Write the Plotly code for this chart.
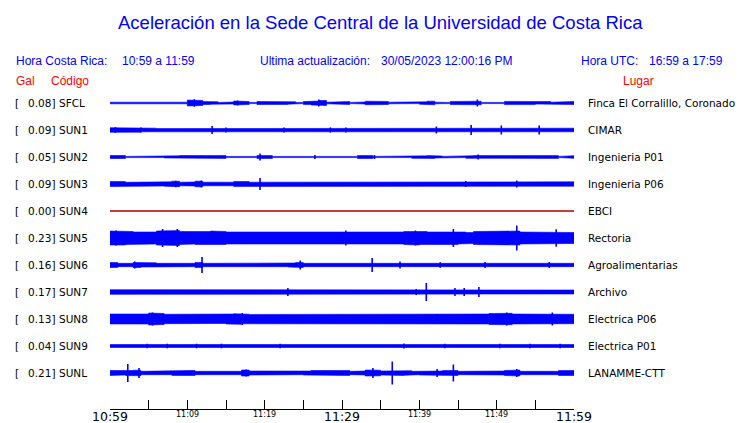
import plotly.graph_objects as go

W, H = 740, 423

# ---------------- data ----------------
codes = ["SFCL", "SUN1", "SUN2", "SUN3", "SUN4", "SUN5", "SUN6", "SUN7", "SUN8", "SUN9", "SUNL"]
peak_gal = [0.08, 0.09, 0.05, 0.09, 0.00, 0.23, 0.16, 0.17, 0.13, 0.04, 0.21]
places = ["Finca El Corralillo, Coronado", "CIMAR", "Ingenieria P01", "Ingenieria P06", "EBCI",
          "Rectoria", "Agroalimentarias", "Archivo", "Electrica P06", "Electrica P01", "LANAMME-CTT"]

# per-minute envelope (half amplitude, display units)
env_SFCL = [0.8,1.0,0.6,0.6,0.6,1.3,1.0,0.6,0.6,0.8, 3.0,2.5,1.5,1.2,0.6,1.0,2.0,1.5,0.6,1.5,
            1.5,1.2,1.4,1.2,0.6,1.4,2.0,2.5,0.8,1.5, 1.5,0.6,1.0,1.8,1.5,1.5,0.8,0.8,0.6,0.6,
            1.2,1.8,0.8,0.6,1.5,1.6,1.5,1.8,0.6,0.8, 0.6,1.6,1.2,1.6,1.6,1.0,1.5,0.8,1.5,1.5]
env_SUN1 = [2.3,2.3,2.0,2.2,1.8,1.8,1.4,1.8,1.4,1.4, 1.4,1.8,1.4,1.8,1.8,2.0,1.8,1.8,1.8,1.8,
            1.8,1.8,2.0,1.8,1.8,1.8,1.8,1.8,1.8,1.8, 2.0,1.8,1.8,1.8,1.8,1.8,1.8,1.8,1.8,1.8,
            1.8,2.0,2.0,1.8,1.8,1.8,2.0,1.8,1.8,1.8, 1.8,1.8,1.8,1.8,1.8,2.0,1.8,1.8,1.8,1.8]
env_SUN2 = [1.5,1.5,0.6,1.2,1.0,0.6,0.6,0.9,1.2,1.5, 1.5,1.4,1.5,1.3,1.4,0.6,1.0,0.9,0.6,1.5,
            1.4,0.6,1.2,0.6,0.9,0.6,1.0,1.3,0.6,1.3, 1.0,0.6,1.5,1.4,0.6,1.3,0.6,0.8,0.6,1.3,
            1.2,1.4,1.0,0.6,1.3,0.6,1.3,1.4,1.4,1.3, 0.7,1.4,1.2,1.4,1.4,0.8,1.3,1.4,0.6,1.3]
env_SUN3 = [2.6,2.4,1.7,2.3,2.0,1.7,2.0,2.2,2.8,1.8, 2.0,2.8,1.8,2.0,1.8,1.8,2.6,2.4,1.8,2.0,
            1.8,1.8,2.4,2.5,2.5,2.0,2.3,2.0,2.2,2.0, 1.8,2.2,2.0,2.0,2.3,2.0,2.0,2.2,2.0,2.2,
            2.2,2.0,2.2,2.0,2.3,2.0,2.2,2.0,2.2,2.0, 2.2,2.0,2.4,2.0,2.4,2.2,2.0,2.3,2.4,2.2]
env_SUN4 = [0.0] * 60
env_SUN5 = [7.0,7.0,6.5,6.0,6.0,6.0,7.0,7.5,7.5,6.5, 6.0,6.5,6.5,7.0,6.5,6.0,6.0,6.0,6.0,5.5,
            6.0,5.5,5.5,6.0,5.5,6.0,5.5,5.5,6.0,5.5, 5.5,6.0,5.5,6.0,5.5,6.0,5.5,6.0,6.5,7.0,
            6.5,6.0,6.5,6.5,6.5,6.0,5.5,6.5,7.0,6.5, 7.0,7.0,7.0,6.0,5.5,5.5,6.0,5.5,5.5,5.5]
env_SUN6 = [2.5,1.7,1.7,2.5,2.0,2.2,1.7,2.3,2.0,1.7, 1.7,2.5,1.7,2.0,2.3,2.2,1.7,2.0,2.2,1.7,
            1.7,1.7,1.7,2.0,2.5,1.7,1.7,1.7,1.7,2.0, 2.2,1.7,1.7,1.7,2.0,1.7,2.0,2.3,1.7,1.7,
            1.7,1.7,2.3,1.7,1.7,1.7,1.7,2.0,2.2,1.7, 1.7,1.7,2.2,1.7,1.7,1.7,2.3,1.7,2.0,1.7]
env_SUN7 = [2.3,2.0,1.8,2.2,1.8,2.0,1.8,2.3,2.3,2.0, 1.8,2.2,1.8,2.0,2.2,1.8,2.3,2.0,1.8,2.3,
            2.2,1.8,2.0,2.5,1.8,2.2,2.0,2.3,2.2,2.0, 2.0,2.0,1.8,2.0,2.2,1.8,2.5,2.0,2.2,2.3,
            2.5,2.2,2.0,2.2,2.5,2.5,2.2,2.5,2.0,2.2, 2.0,2.2,2.0,2.2,2.0,2.0,2.2,2.0,2.3,2.0]
env_SUN8 = [5.0,5.0,4.5,4.7,5.0,6.0,5.5,4.7,4.5,4.7, 5.0,4.5,4.7,4.5,4.5,5.0,5.3,4.8,4.5,4.5,
            4.5,4.5,4.8,5.0,4.5,4.5,4.5,4.5,4.7,4.5, 4.5,4.5,4.7,4.5,4.8,4.5,4.5,4.5,4.8,4.8,
            4.5,5.0,4.8,4.5,4.7,4.5,5.0,4.8,5.0,5.5, 6.0,5.7,5.0,4.8,4.5,4.5,5.0,4.7,4.5,4.7]
env_SUN9 = [1.5] * 60
env_SUNL = [2.5,2.0,2.5,2.8,1.7,2.4,2.0,1.7,2.4,2.4, 2.5,1.7,1.7,2.2,2.0,1.7,1.7,3.0,2.0,2.0,
            2.2,1.7,2.2,2.2,1.7,2.0,2.5,2.4,2.2,2.5, 2.5,1.7,2.0,3.0,2.8,2.0,2.5,2.5,2.3,1.7,
            2.0,2.2,2.0,2.5,2.5,1.7,1.7,2.4,2.4,2.2, 2.0,2.5,3.0,1.7,2.2,1.7,2.0,1.7,2.5,2.5]

# prominent peaks: (minute, half amplitude)
spk_SFCL = [(10.9, 3.8), (27.0, 3.5), (47.5, 3.5), (16.5, 2.5)]
spk_SUN1 = [(13.2, 4.0), (42.2, 3.5), (46.7, 5.0), (50.6, 4.5), (55.5, 4.5), (0.7, 2.8),
            (4.0, 2.6), (15.0, 2.6), (22.5, 2.6), (28.5, 2.6), (30.5, 2.5)]
spk_SUN2 = [(19.4, 3.5), (47.6, 2.5), (34.2, 2.0), (26.5, 2.0)]
spk_SUN3 = [(19.4, 6.0), (52.6, 3.5), (46.0, 3.0), (11.8, 3.5), (8.5, 3.2)]
spk_SUN4 = []
spk_SUN5 = [(6.8, 9.0), (8.7, 9.0), (44.4, 9.0), (52.6, 12.5), (57.7, 8.7), (0.8, 7.5), (30.5, 7.5), (39.5, 7.5)]
spk_SUN6 = [(11.9, 8.0), (33.9, 7.0), (3.2, 3.5), (24.6, 4.5), (37.5, 3.5), (42.7, 2.8), (48.5, 3.0), (56.8, 3.0)]
spk_SUN7 = [(40.9, 9.0), (23.0, 4.0), (44.6, 4.0), (45.8, 4.0), (47.7, 5.0), (39.6, 3.0)]
spk_SUN8 = [(5.5, 6.5), (17.1, 6.0), (51.3, 6.5), (57.2, 6.5), (42.3, 5.0)]
spk_SUN9 = [(4.8, 2.3), (7.4, 2.3), (11.2, 2.3), (14.4, 2.3), (22.0, 2.3), (38.0, 2.5),
            (43.3, 2.3), (50.4, 2.3), (54.3, 2.3), (58.2, 2.3)]
spk_SUNL = [(2.3, 9.0), (3.75, 5.0), (36.5, 11.5), (44.4, 8.5), (34.0, 5.0), (52.6, 4.0), (42.3, 4.0), (17.6, 3.5)]

envelopes = [env_SFCL, env_SUN1, env_SUN2, env_SUN3, env_SUN4, env_SUN5,
             env_SUN6, env_SUN7, env_SUN8, env_SUN9, env_SUNL]
spikes = [spk_SFCL, spk_SUN1, spk_SUN2, spk_SUN3, spk_SUN4, spk_SUN5,
          spk_SUN6, spk_SUN7, spk_SUN8, spk_SUN9, spk_SUNL]

tick_minutes = list(range(0, 61, 5))
label_minutes = [0, 10, 20, 30, 40, 50, 60]
label_texts = ["10:59", "11:09", "11:19", "11:29", "11:39", "11:49", "11:59"]
major_labels = ["10:59", "11:29", "11:59"]

title = "Aceleración en la Sede Central de la Universidad de Costa Rica"

# ---------------- layout helpers ----------------
BLUE = "#0000ff"
RED = "#ff0000"
ROW0_PX, ROW_PX = 103, 27          # row spacing in pixels
GAIN = 1.0 / ROW_PX                # display units -> row units
y_top = -ROW0_PX / ROW_PX
y_bot = (H - ROW0_PX) / ROW_PX

def py(p):   # pixel y -> paper y
    return 1 - p / H

def px(p):   # pixel x -> paper x
    return p / W

fig = go.Figure()

for i, (env, spk) in enumerate(zip(envelopes, spikes)):
    if max(env) == 0:
        fig.add_trace(go.Scatter(x=[0, 60], y=[i, i], mode="lines",
                                 line=dict(color="#b00000", width=1.4), hoverinfo="skip"))
        continue
    xs, ys = [], []
    for m, a in enumerate(env):
        xs += [m, m + 1]
        ys += [i - a * GAIN, i - a * GAIN]
    for m in range(len(env) - 1, -1, -1):
        a = env[m]
        xs += [m + 1, m]
        ys += [i + a * GAIN, i + a * GAIN]
    fig.add_trace(go.Scatter(x=xs, y=ys, mode="lines", fill="toself", fillcolor=BLUE,
                             line=dict(color=BLUE, width=0.6), hoverinfo="skip"))
    if spk:
        sx, sy = [], []
        for t, a in spk:
            sx += [t, t, None]
            sy += [i - a * GAIN, i + a * GAIN, None]
        fig.add_trace(go.Scatter(x=sx, y=sy, mode="lines",
                                 line=dict(color=BLUE, width=1.6), hoverinfo="skip"))

ann = []
def A(text, x, y, size, color, family, xanchor="left", xref="paper", yref="paper"):
    ann.append(dict(text=text, x=x, y=y, xref=xref, yref=yref, xanchor=xanchor, yanchor="middle",
                    showarrow=False, font=dict(size=size, color=color, family=family)))

SANS = "Liberation Sans, Arial, sans-serif"
DJ = "DejaVu Sans, sans-serif"

A(title, px(381), py(23), 18.5, BLUE, SANS, "center")
A("Hora Costa Rica:", px(14), py(61), 12, BLUE, SANS)
A("10:59 a 11:59", px(120), py(61), 12, BLUE, SANS)
A("Ultima actualización:", px(258), py(61), 12, BLUE, SANS)
A("30/05/2023 12:00:16 PM", px(379), py(61), 12, BLUE, SANS)
A("Hora UTC:", px(579), py(61), 12, BLUE, SANS)
A("16:59 a 17:59", px(725), py(61), 12, BLUE, SANS, "right")
A("Gal", px(14), py(81), 12, RED, SANS)
A("Código", px(49), py(81), 12, RED, SANS)
A("Lugar", px(621), py(81), 12, RED, SANS)

for i, (c, g, p) in enumerate(zip(codes, peak_gal, places)):
    A("[", px(13), i, 10.5, "black", DJ, yref="y")
    A(f"{g:.2f}]", px(26), i, 10.5, "black", DJ, yref="y")
    A(c, px(57), i, 10.5, "black", DJ, yref="y")
    A(p, px(586), i, 10.5, "black", DJ, yref="y")

for m, t in zip(label_minutes, label_texts):
    big = t in major_labels
    ann.append(dict(text=t, x=m, y=py(416.5 if big else 414.5), xref="x", yref="paper",
                    xanchor="center", yanchor="middle", showarrow=False,
                    font=dict(size=12.5 if big else 8, color="black", family=DJ)))

fig.update_layout(
    width=W, height=H, margin=dict(l=0, r=0, t=0, b=0),
    paper_bgcolor="white", plot_bgcolor="white", showlegend=False,
    annotations=ann,
    xaxis=dict(domain=[px(110), px(574)], range=[0, 60], anchor="free", position=py(409),
               showline=True, linecolor="black", linewidth=1, ticks="inside", ticklen=9,
               tickcolor="black", tickwidth=1, tickvals=tick_minutes, showticklabels=False,
               showgrid=False, zeroline=False, fixedrange=True),
    yaxis=dict(domain=[0, 1], range=[y_bot, y_top], visible=False, fixedrange=True),
)

fig.write_html("out.html", config={"displayModeBar": False},
               post_script="document.body.style.margin='0';document.body.style.overflow='hidden';")
